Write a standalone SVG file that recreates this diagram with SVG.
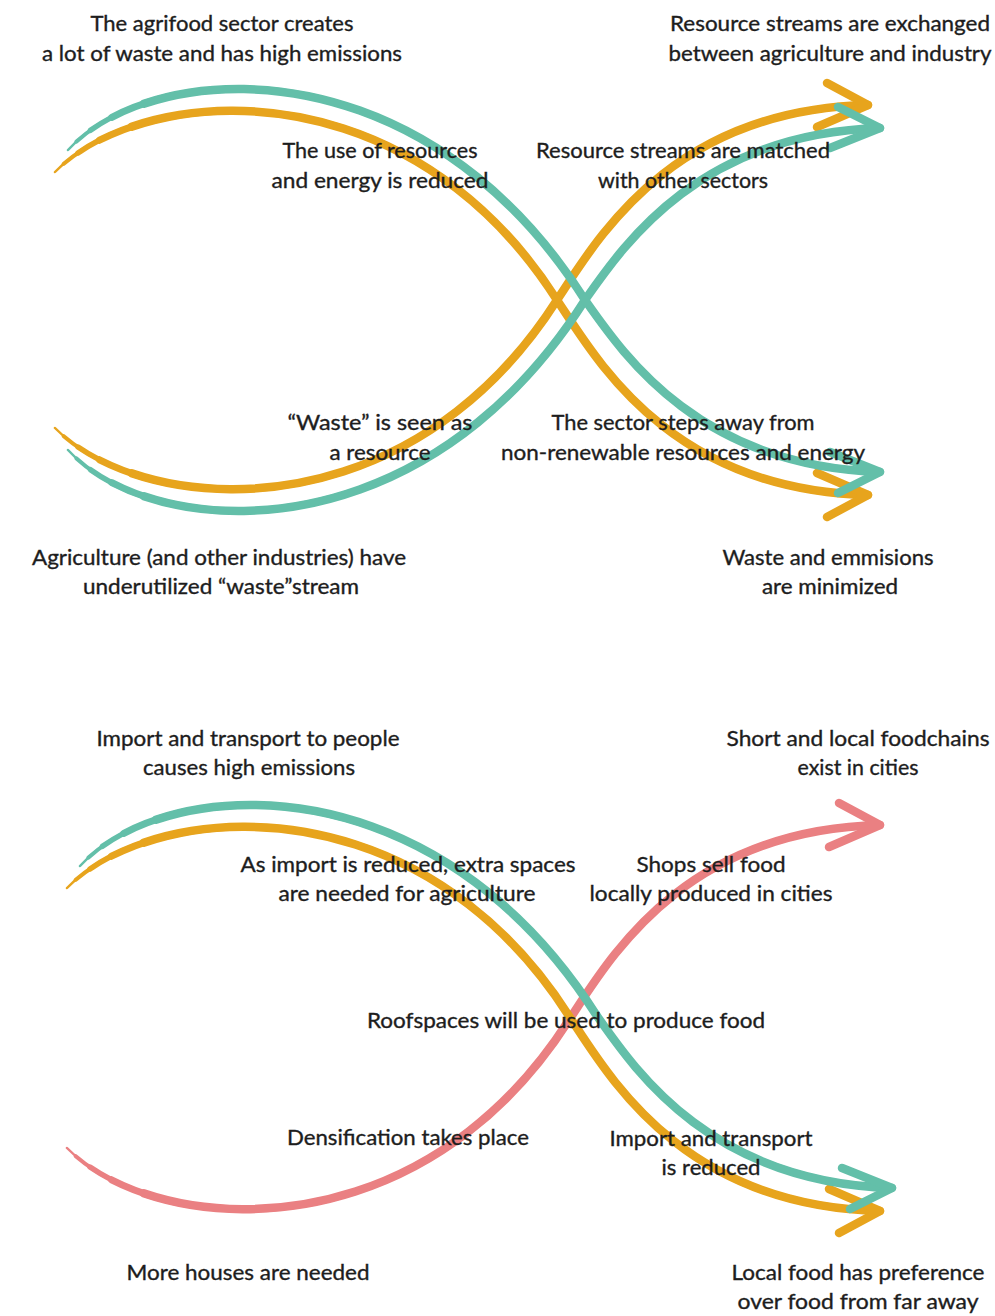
<svg xmlns="http://www.w3.org/2000/svg" xmlns:xlink="http://www.w3.org/1999/xlink" width="995" height="1316" viewBox="0 0 995 1316">
  <style>
    text { font-family: Lato, "Open Sans", "Liberation Sans", sans-serif; font-size: 21px; fill: #1d1d1d; stroke: #1d1d1d; stroke-width: 0.35; text-anchor: middle; }
    .flow { fill: none; stroke-linecap: round; stroke-dashoffset: 4000; }
    .w1 { stroke-width: 2.5; stroke-dasharray: 4000 0; }
    .w2 { stroke-width: 4; stroke-dasharray: 4000 12; }
    .w3 { stroke-width: 5.5; stroke-dasharray: 4000 30; }
    .w4 { stroke-width: 7; stroke-dasharray: 4000 55; }
    .w5 { stroke-width: 8.5; stroke-dasharray: 4000 90; }
    .head { fill: none; stroke-width: 8.5; stroke-linecap: round; stroke-linejoin: round; }
    .teal { stroke: #63bfa9; }
    .orange { stroke: #e7a41d; }
    .pink { stroke: #ea8082; }
  </style>
  <defs>
    <!-- descending sweeps: rise from the left, cross the middle, level off into the arrow -->
    <path id="sweep-teal" d="M68,150 C150,60 420,40 585,300 C625,357 700,466 880,472"/>
    <path id="sweep-orange" d="M55,172 C140,85 405,62 557,300 C597,360 670,490 868,495"/>
    <path id="head-teal" d="M830,452 L880,472 L838,493"/>
    <path id="head-orange" d="M817,473 L868,495 L827,517"/>
    <!-- one tapered stroke: thin at the start, full width further along -->
    <g id="stroke-teal">
      <use xlink:href="#sweep-teal" class="flow w1"/>
      <use xlink:href="#sweep-teal" class="flow w2"/>
      <use xlink:href="#sweep-teal" class="flow w3"/>
      <use xlink:href="#sweep-teal" class="flow w4"/>
      <use xlink:href="#sweep-teal" class="flow w5"/>
      <use xlink:href="#head-teal" class="head"/>
    </g>
    <g id="stroke-orange">
      <use xlink:href="#sweep-orange" class="flow w1"/>
      <use xlink:href="#sweep-orange" class="flow w2"/>
      <use xlink:href="#sweep-orange" class="flow w3"/>
      <use xlink:href="#sweep-orange" class="flow w4"/>
      <use xlink:href="#sweep-orange" class="flow w5"/>
      <use xlink:href="#head-orange" class="head"/>
    </g>
  </defs>

  <g id="connectors">
    <!-- upper figure -->
    <g id="flows-top">
      <use id="flow-orange-up" xlink:href="#stroke-orange" class="orange" transform="matrix(1 0 0 -1 0 600)"/>
      <use id="flow-orange-down" xlink:href="#stroke-orange" class="orange"/>
      <use id="flow-teal-up" xlink:href="#stroke-teal" class="teal" transform="matrix(1 0 0 -1 0 600)"/>
      <use id="flow-teal-down" xlink:href="#stroke-teal" class="teal"/>
    </g>
    <!-- lower figure -->
    <g id="flows-bottom">
      <use id="flow-pink-up" xlink:href="#stroke-orange" class="pink" transform="matrix(1 0 0 -1 12 1320)"/>
      <use id="flow-orange-down-2" xlink:href="#stroke-orange" class="orange" transform="translate(12 716)"/>
      <use id="flow-teal-down-2" xlink:href="#stroke-teal" class="teal" transform="translate(12 716)"/>
    </g>
  </g>

  <!-- upper figure labels -->
  <g id="agrifood-waste"><text x="222" y="31" textLength="263" lengthAdjust="spacingAndGlyphs">The agrifood sector creates</text><text x="222" y="61" textLength="360" lengthAdjust="spacingAndGlyphs">a lot of waste and has high emissions</text></g>
  <g id="streams-exchanged"><text x="830" y="31" textLength="320" lengthAdjust="spacingAndGlyphs">Resource streams are exchanged</text><text x="830" y="61" textLength="323" lengthAdjust="spacingAndGlyphs">between agriculture and industry</text></g>
  <g id="use-reduced"><text x="380" y="158" textLength="195" lengthAdjust="spacingAndGlyphs">The use of resources</text><text x="380" y="188" textLength="217" lengthAdjust="spacingAndGlyphs">and energy is reduced</text></g>
  <g id="streams-matched"><text x="683" y="158" textLength="294" lengthAdjust="spacingAndGlyphs">Resource streams are matched</text><text x="683" y="188" textLength="170" lengthAdjust="spacingAndGlyphs">with other sectors</text></g>
  <g id="waste-resource"><text x="380" y="430" textLength="185" lengthAdjust="spacingAndGlyphs">“Waste” is seen as</text><text x="380" y="460" textLength="101" lengthAdjust="spacingAndGlyphs">a resource</text></g>
  <g id="steps-away"><text x="683" y="430" textLength="263" lengthAdjust="spacingAndGlyphs">The sector steps away from</text><text x="683" y="460" textLength="364" lengthAdjust="spacingAndGlyphs">non-renewable resources and energy</text></g>
  <g id="underutilized"><text x="219" y="565" textLength="374" lengthAdjust="spacingAndGlyphs">Agriculture (and other industries) have</text><text x="221" y="594" textLength="276" lengthAdjust="spacingAndGlyphs">underutilized “waste”stream</text></g>
  <g id="minimized"><text x="828" y="565" textLength="211" lengthAdjust="spacingAndGlyphs">Waste and emmisions</text><text x="830" y="594" textLength="136" lengthAdjust="spacingAndGlyphs">are minimized</text></g>

  <!-- lower figure labels -->
  <g id="import-emissions"><text x="248" y="746" textLength="303" lengthAdjust="spacingAndGlyphs">Import and transport to people</text><text x="249" y="775" textLength="212" lengthAdjust="spacingAndGlyphs">causes high emissions</text></g>
  <g id="local-foodchains"><text x="858" y="746" textLength="263" lengthAdjust="spacingAndGlyphs">Short and local foodchains</text><text x="858" y="775" textLength="121" lengthAdjust="spacingAndGlyphs">exist in cities</text></g>
  <g id="extra-spaces"><text x="408" y="872" textLength="335" lengthAdjust="spacingAndGlyphs">As import is reduced, extra spaces</text><text x="407" y="901" textLength="257" lengthAdjust="spacingAndGlyphs">are needed for agriculture</text></g>
  <g id="shops"><text x="711" y="872" textLength="149" lengthAdjust="spacingAndGlyphs">Shops sell food</text><text x="711" y="901" textLength="243" lengthAdjust="spacingAndGlyphs">locally produced in cities</text></g>
  <g id="roofspaces"><text x="566" y="1028" textLength="398" lengthAdjust="spacingAndGlyphs">Roofspaces will be used to produce food</text></g>
  <g id="densification"><text x="408" y="1145" textLength="242" lengthAdjust="spacingAndGlyphs">Densification takes place</text></g>
  <g id="transport-reduced"><text x="711" y="1146" textLength="203" lengthAdjust="spacingAndGlyphs">Import and transport</text><text x="711" y="1175" textLength="99" lengthAdjust="spacingAndGlyphs">is reduced</text></g>
  <g id="more-houses"><text x="248" y="1280" textLength="243" lengthAdjust="spacingAndGlyphs">More houses are needed</text></g>
  <g id="local-preference"><text x="858" y="1280" textLength="253" lengthAdjust="spacingAndGlyphs">Local food has preference</text><text x="858" y="1309" textLength="241" lengthAdjust="spacingAndGlyphs">over food from far away</text></g>
</svg>
